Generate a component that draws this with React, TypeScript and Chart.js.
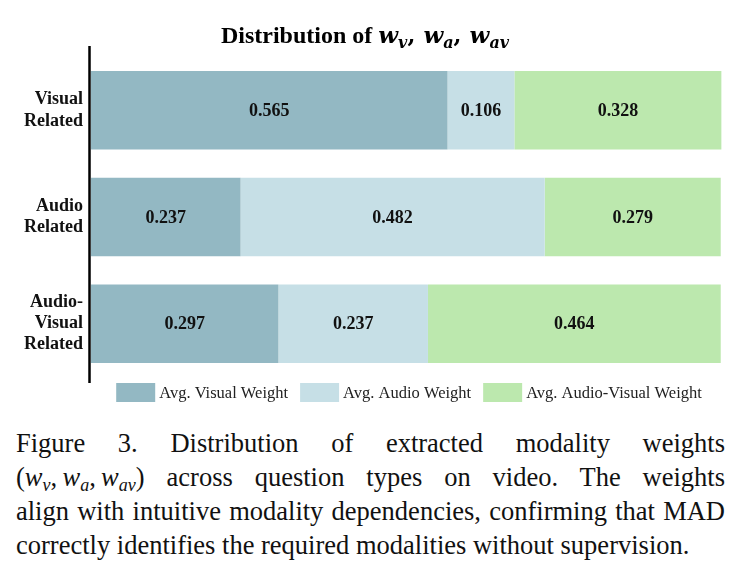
import React, { useEffect, useRef } from 'react';
import { Chart, registerables } from 'chart.js';

Chart.register(...registerables);

// Question types (multi-line tick labels) and the per-modality average weights
const categories: string[][] = [
  ['Visual', 'Related'],
  ['Audio', 'Related'],
  ['Audio-', 'Visual', 'Related'],
];
const seriesNames = ['Avg. Visual Weight', 'Avg. Audio Weight', 'Avg. Audio-Visual Weight'];
const visualWeights = [0.565, 0.237, 0.297];
const audioWeights = [0.106, 0.482, 0.237];
const audioVisualWeights = [0.328, 0.279, 0.464];
const seriesColors = ['#93B8C3', '#C6DFE6', '#BCE8AE'];

const SERIF = '"Liberation Serif", "Times New Roman", serif';
const MATH = '"DejaVu Serif", serif';

// Title with math subscripts: Distribution of w_v, w_a, w_av
const titlePlugin = {
  id: 'mathTitle',
  afterDraw(chart: any) {
    const ctx = chart.ctx as CanvasRenderingContext2D;
    const base = 43;
    const parts: { t: string; font: string; dy: number }[] = [
      { t: 'Distribution of ', font: `bold 24px ${SERIF}`, dy: 0 },
      { t: 'w', font: `italic bold 23px ${MATH}`, dy: 0 },
      { t: 'v', font: `italic bold 16px ${MATH}`, dy: 5 },
      { t: ', ', font: `bold 23px ${MATH}`, dy: 0 },
      { t: 'w', font: `italic bold 23px ${MATH}`, dy: 0 },
      { t: 'a', font: `italic bold 16px ${MATH}`, dy: 5 },
      { t: ', ', font: `bold 23px ${MATH}`, dy: 0 },
      { t: 'w', font: `italic bold 23px ${MATH}`, dy: 0 },
      { t: 'av', font: `italic bold 16px ${MATH}`, dy: 5 },
    ];
    ctx.save();
    ctx.fillStyle = '#000';
    ctx.textBaseline = 'alphabetic';
    ctx.textAlign = 'left';
    let total = 0;
    const widths = parts.map((p) => {
      ctx.font = p.font;
      const w = ctx.measureText(p.t).width;
      total += w;
      return w;
    });
    let x = 365 - total / 2;
    parts.forEach((p, i) => {
      ctx.font = p.font;
      ctx.fillText(p.t, x, base + p.dy);
      x += widths[i];
    });
    ctx.restore();
  },
};

// Segment value labels, centred inside each stacked bar piece
const valueLabelPlugin = {
  id: 'valueLabels',
  afterDatasetsDraw(chart: any) {
    const ctx = chart.ctx as CanvasRenderingContext2D;
    ctx.save();
    ctx.font = `bold 18px ${SERIF}`;
    ctx.fillStyle = '#111';
    ctx.textAlign = 'center';
    ctx.textBaseline = 'middle';
    chart.data.datasets.forEach((ds: any, i: number) => {
      const meta = chart.getDatasetMeta(i);
      meta.data.forEach((bar: any, j: number) => {
        const v = ds.data[j] as number;
        ctx.fillText(v.toFixed(3), (bar.x + bar.base) / 2, bar.y + 1);
      });
    });
    ctx.restore();
  },
};

// Left spine, slightly taller than the plot area
const spinePlugin = {
  id: 'leftSpine',
  afterDraw(chart: any) {
    const { ctx, chartArea } = chart;
    ctx.save();
    ctx.strokeStyle = '#000';
    ctx.lineWidth = 2.5;
    ctx.beginPath();
    ctx.moveTo(chartArea.left - 1.5, chartArea.top - 11);
    ctx.lineTo(chartArea.left - 1.5, chartArea.bottom + 6);
    ctx.stroke();
    ctx.restore();
  },
};

// Legend row beneath the bars
const legendPlugin = {
  id: 'bottomLegend',
  afterDraw(chart: any) {
    const ctx = chart.ctx as CanvasRenderingContext2D;
    const boxW = 39;
    const boxH = 19;
    const gapText = 4;
    const gapItem = 12;
    const top = 383;
    ctx.save();
    ctx.font = `16.5px ${SERIF}`;
    ctx.textBaseline = 'middle';
    ctx.textAlign = 'left';
    const items = chart.data.datasets.map((ds: any) => ({
      label: ds.label as string,
      color: ds.backgroundColor as string,
      w: ctx.measureText(ds.label).width,
    }));
    const total =
      items.reduce((s: number, it: any) => s + boxW + gapText + it.w, 0) + gapItem * (items.length - 1);
    let x = 409 - total / 2;
    items.forEach((it: any) => {
      ctx.fillStyle = it.color;
      ctx.fillRect(x, top, boxW, boxH);
      ctx.fillStyle = '#222';
      ctx.fillText(it.label, x + boxW + gapText, top + boxH / 2 + 1);
      x += boxW + gapText + it.w + gapItem;
    });
    ctx.restore();
  },
};

function ChartCanvas() {
  const ref = useRef<HTMLCanvasElement | null>(null);
  useEffect(() => {
    if (!ref.current) return;
    const values = [visualWeights, audioWeights, audioVisualWeights];
    const chart = new Chart(ref.current, {
      type: 'bar',
      data: {
        labels: categories,
        datasets: seriesNames.map((name, i) => ({
          label: name,
          data: values[i],
          backgroundColor: seriesColors[i],
          borderWidth: 0,
          barPercentage: 0.736,
          categoryPercentage: 1,
        })),
      },
      options: {
        indexAxis: 'y',
        responsive: false,
        maintainAspectRatio: false,
        devicePixelRatio: 1,
        animation: false,
        layout: { padding: { top: 57, bottom: 43, left: 0, right: 19 } },
        plugins: {
          legend: { display: false },
          title: { display: false },
          tooltip: { enabled: false },
        },
        scales: {
          x: {
            stacked: true,
            min: 0,
            max: 1,
            display: false,
          },
          y: {
            stacked: true,
            grid: { display: false, drawTicks: false },
            border: { display: false },
            ticks: {
              color: '#111',
              padding: 8,
              font: { family: SERIF, size: 18, weight: 'bold', lineHeight: 1.17 },
            },
            afterFit(scale: any) {
              scale.width = 91;
            },
          },
        },
      },
      plugins: [valueLabelPlugin, spinePlugin, titlePlugin, legendPlugin],
    } as any);
    return () => chart.destroy();
  }, []);
  return <canvas ref={ref} width={741} height={420} style={{ display: 'block', width: 741, height: 420 }} />;
}

const sub: React.CSSProperties = { fontSize: '68%', verticalAlign: '-0.3em', lineHeight: 0, fontStyle: 'italic' };
const just: React.CSSProperties = { textAlign: 'justify', textAlignLast: 'justify' } as React.CSSProperties;
const mathGroup: React.CSSProperties = { display: 'inline-block', whiteSpace: 'nowrap' };

export default function App() {
  return (
    <div style={{ position: 'absolute', left: 0, top: 0, width: 741, height: 573, background: '#fff' }}>
      <ChartCanvas />
      <div
        style={{
          position: 'absolute',
          left: 16,
          top: 426,
          width: 709,
          fontFamily: SERIF,
          fontSize: 26.5,
          lineHeight: '34px',
          color: '#111',
        }}
      >
        <div style={just}>Figure 3. Distribution of extracted modality weights</div>
        <div style={just}>
          <span style={mathGroup}>
            (<i>w</i>
            <span style={sub}>v</span>,&thinsp;<i>w</i>
            <span style={sub}>a</span>,&thinsp;<i>w</i>
            <span style={sub}>av</span>)
          </span>{' '}
          across question types on video. The weights
        </div>
        <div style={just}>align with intuitive modality dependencies, confirming that MAD</div>
        <div>correctly identifies the required modalities without supervision.</div>
      </div>
    </div>
  );
}
